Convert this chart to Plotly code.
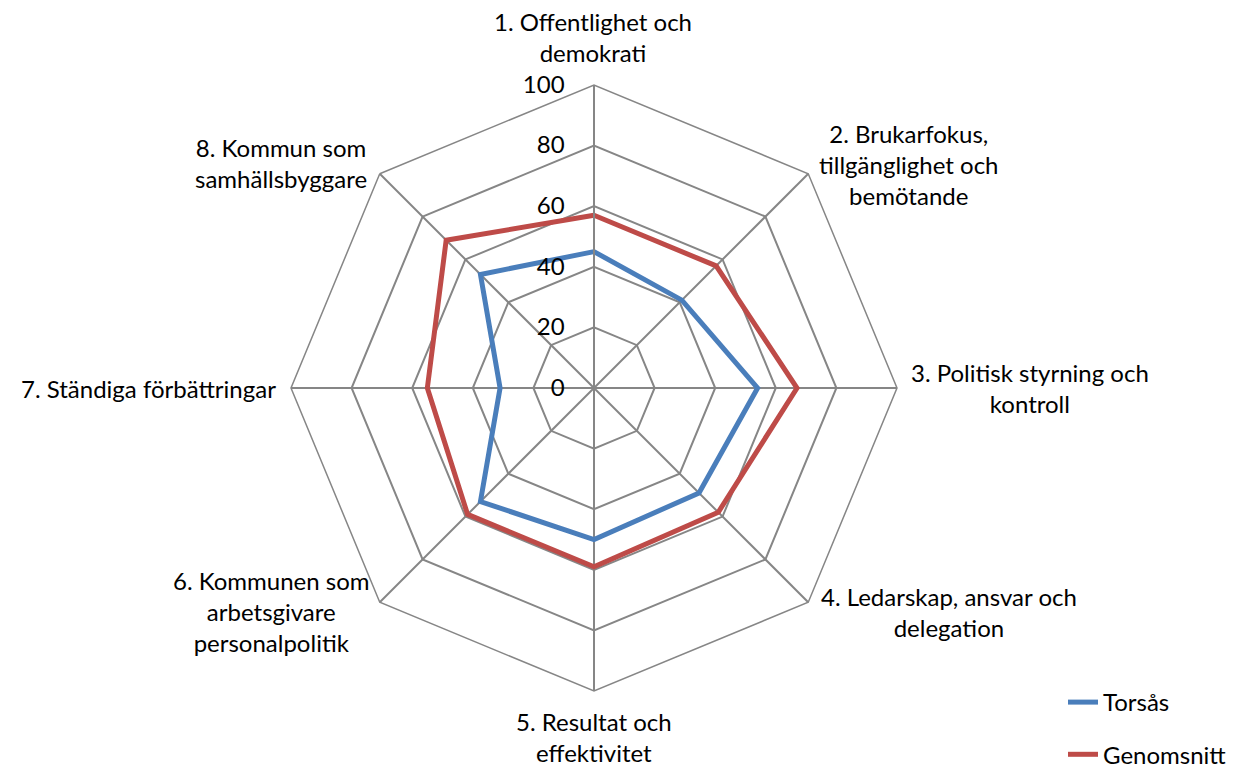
import plotly.graph_objects as go

categories = [
    "1. Offentlighet och<br>demokrati",
    "2. Brukarfokus,<br>tillgänglighet och<br>bemötande",
    "3. Politisk styrning och<br>kontroll",
    "4. Ledarskap, ansvar och<br>delegation",
    "5. Resultat och<br>effektivitet",
    "6. Kommunen som<br>arbetsgivare<br>personalpolitik",
    "7. Ständiga förbättringar",
    "8. Kommun som<br>samhällsbyggare",
]
torsas = [45, 41, 54, 49, 50, 53, 31, 53]
genomsnitt = [57, 57, 67, 58, 59, 59, 55, 69]
radial_ticks = [0, 20, 40, 60, 80, 100]

W, H = 1246, 767
OFF = 8  # page body margin offset of the rendered figure
CX, CY, R = 594 - OFF, 388 - OFF, 303
FONT = "Lato"
FS = 24
GRID = "#868686"

fig = go.Figure()
fig.add_trace(go.Scatterpolar(
    r=torsas + torsas[:1], theta=categories + categories[:1],
    mode="lines", name="Torsås", legendgroup="a",
    line=dict(color="#4A7EBB", width=5),
))
fig.add_trace(go.Scatterpolar(
    r=genomsnitt + genomsnitt[:1], theta=categories + categories[:1],
    mode="lines", name="Genomsnitt", legendgroup="b",
    line=dict(color="#BE4B48", width=5),
))

label_pos = [
    (593, 37, "center"),
    (909, 164, "center"),
    (1030, 388, "center"),
    (949, 612, "center"),
    (594, 737, "center"),
    (372, 611, "right"),
    (278, 388, "right"),
    (369, 163, "right"),
]
annotations = []
for text, (px, py, xa) in zip(categories, label_pos):
    annotations.append(dict(
        x=(px - OFF) / W, y=1 - (py - OFF) / H, xref="paper", yref="paper",
        text=text, showarrow=False, xanchor=xa, yanchor="middle",
        align="center", font=dict(family=FONT, size=FS, color="black"),
    ))

fig.update_layout(
    width=W, height=H,
    paper_bgcolor="white", plot_bgcolor="white",
    margin=dict(l=0, r=0, t=0, b=0, autoexpand=False),
    font=dict(family=FONT, size=FS, color="black"),
    annotations=annotations,
    polar=dict(
        domain=dict(x=[(CX - R) / W, (CX + R) / W],
                    y=[1 - (CY + R) / H, 1 - (CY - R) / H]),
        gridshape="linear",
        bgcolor="white",
        radialaxis=dict(
            range=[0, 100], tickvals=radial_ticks, angle=90,
            side="counterclockwise", tickangle=90,
            showline=True, linecolor=GRID, linewidth=2,
            gridcolor=GRID, gridwidth=1.5,
            ticks="outside", ticklen=20, tickcolor="rgba(0,0,0,0)",
            tickfont=dict(family=FONT, size=FS),
        ),
        angularaxis=dict(
            direction="clockwise", rotation=90,
            showline=True, linecolor=GRID, linewidth=1.5,
            gridcolor=GRID, gridwidth=1.5, ticks="",
            showticklabels=False,
        ),
    ),
    legend=dict(x=(1063 - OFF) / W, y=1 - (680 - OFF) / H,
                xanchor="left", yanchor="top",
                tracegroupgap=18, font=dict(family=FONT, size=FS),
                bgcolor="rgba(0,0,0,0)"),
    showlegend=True,
)

fig.write_html("out.html")
